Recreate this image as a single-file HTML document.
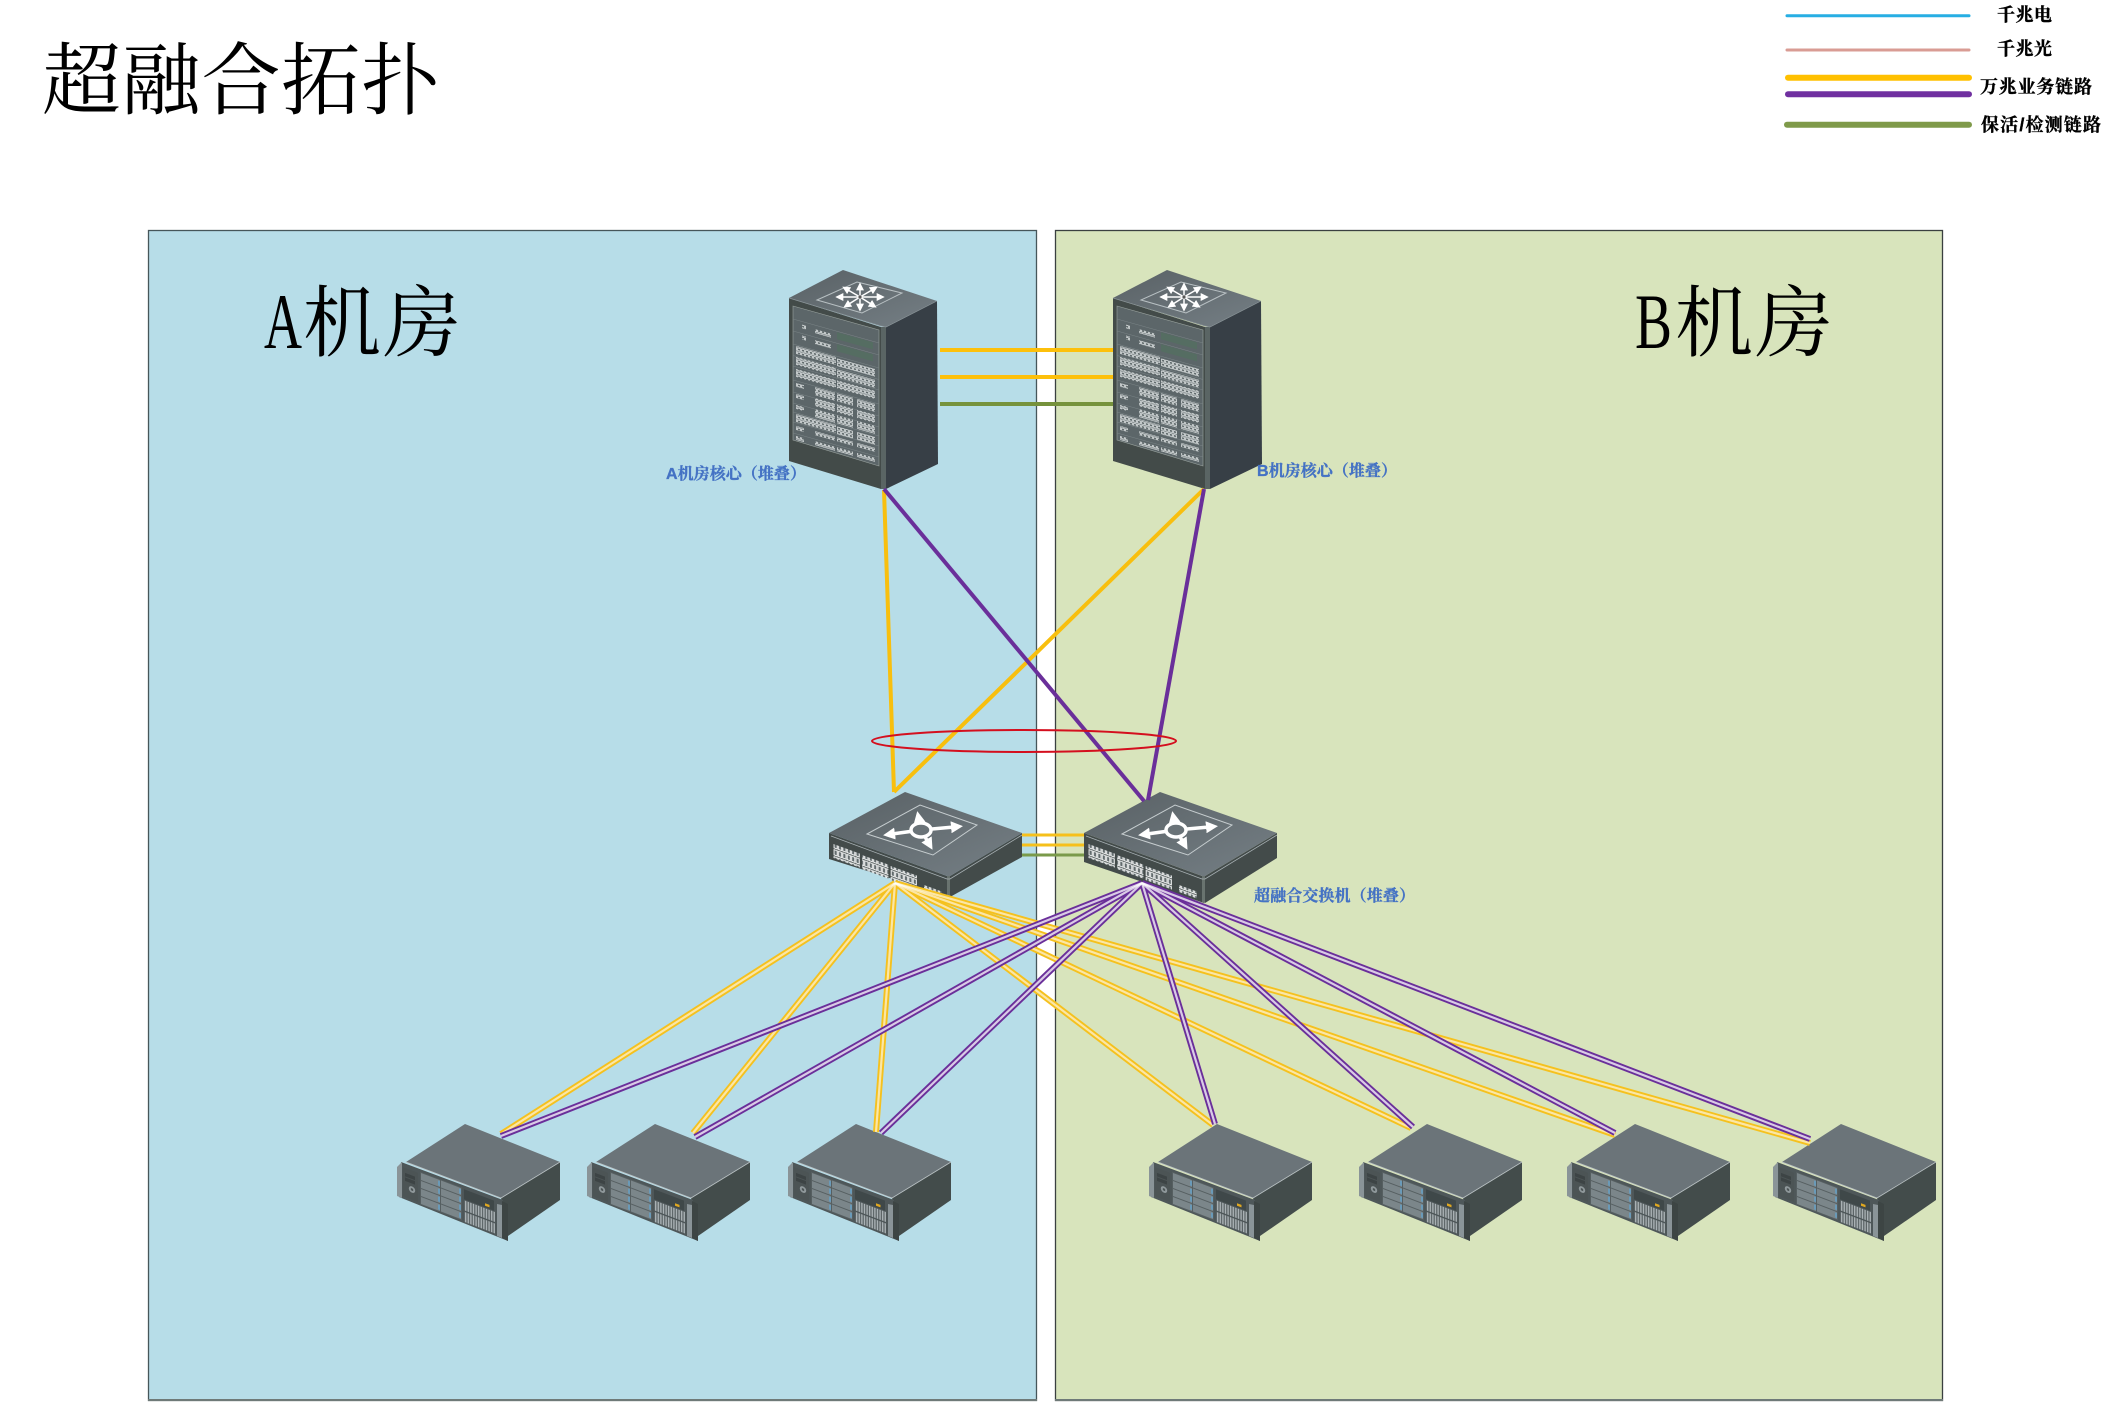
<!DOCTYPE html>
<html lang="zh"><head><meta charset="utf-8"><title>超融合拓扑</title>
<style>html,body{margin:0;padding:0;background:#fff}svg{display:block}</style></head>
<body>
<svg xmlns="http://www.w3.org/2000/svg" width="2111" height="1402" viewBox="0 0 2111 1402">
<defs>
<linearGradient id="gt" x1="0" y1="0" x2="1" y2="1"><stop offset="0" stop-color="#596165"/><stop offset="1" stop-color="#757f85"/></linearGradient>
<pattern id="pp" width="4" height="4" patternUnits="userSpaceOnUse"><rect x=".6" y=".6" width="2.8" height="2.6" fill="#566062" stroke="#e8ecec" stroke-width=".8"/></pattern>
<pattern id="ps" width="4.4" height="7" patternUnits="userSpaceOnUse"><rect x=".6" y=".8" width="3.2" height="5.2" fill="#626b6d" stroke="#f2f4f4" stroke-width="1"/></pattern>
<pattern id="pv" width="2.6" height="10" patternUnits="userSpaceOnUse"><rect width="1.5" height="10" fill="#a9b1b4"/><rect x="1.5" width="1.1" height="10" fill="#5a6365"/></pattern>
<marker id="mw" markerWidth="8" markerHeight="8" refX="1" refY="3" orient="auto" markerUnits="userSpaceOnUse" viewBox="0 0 6 6"><path d="M0 0L6 3L0 6z" fill="#fff"/></marker>
<marker id="mb" markerWidth="12" markerHeight="12" refX="1.5" refY="3" orient="auto" markerUnits="userSpaceOnUse" viewBox="0 0 6 6"><path d="M0 0L6 3L0 6z" fill="#fff"/></marker>

<g id="rack">
  <polygon points="789,298 881,327 881,489 789,461" fill="#434b49"/>
  <polygon points="886,327 937,301 938,464 886,489" fill="#373f46"/>
  <polygon points="881,327 886,327 886,489 881,489" fill="#5a6564"/>
  <polygon points="789,298 843,270 937,301 886,327 881,326" fill="url(#gt)"/>
  <polyline points="789,298 881,326 886,327 937,301" fill="none" stroke="#8a9498" stroke-width=".7"/>
  <polygon points="793,306 879,330 879,466 793,440" fill="#5c6669" stroke="#9aa39f" stroke-width=".6"/>
  <polygon points="817,300 857,282 902,293 862,313" fill="none" stroke="#b8c0c3" stroke-width="1"/>
  <g stroke="#fff" stroke-width="1.500">
    <line x1="860" y1="297" x2="860" y2="289" marker-end="url(#mw)"/>
    <line x1="860" y1="297" x2="860" y2="305" marker-end="url(#mw)"/>
    <line x1="860" y1="297" x2="842" y2="297" marker-end="url(#mw)"/>
    <line x1="860" y1="297" x2="878" y2="297" marker-end="url(#mw)"/>
    <line x1="860" y1="297" x2="848" y2="290" marker-end="url(#mw)"/>
    <line x1="860" y1="297" x2="872" y2="290" marker-end="url(#mw)"/>
    <line x1="860" y1="297" x2="849" y2="304" marker-end="url(#mw)"/>
    <line x1="860" y1="297" x2="871" y2="304" marker-end="url(#mw)"/>
  </g>
  <circle cx="860" cy="297" r="1.600" fill="#555"/>
  <g transform="matrix(1,.279,0,1,793,306)">
    <g stroke="#7b8587" stroke-width=".5">
      <line x1="0" y1="13" x2="86" y2="13"/><line x1="0" y1="25" x2="86" y2="25"/><line x1="0" y1="38" x2="86" y2="38"/><line x1="0" y1="49.500" x2="86" y2="49.500"/><line x1="0" y1="60" x2="86" y2="60"/><line x1="0" y1="74" x2="86" y2="74"/><line x1="0" y1="86" x2="86" y2="86"/><line x1="0" y1="97" x2="86" y2="97"/><line x1="0" y1="106" x2="86" y2="106"/><line x1="0" y1="116" x2="86" y2="116"/><line x1="0" y1="127" x2="86" y2="127"/>
    </g>
    <rect x="9" y="16" width="4" height="4" fill="url(#pp)"/><rect x="22" y="17" width="16" height="4" fill="url(#pp)"/>
    <rect x="9" y="27" width="4" height="4" fill="url(#pp)"/><rect x="22" y="28" width="16" height="4" fill="url(#pp)"/>
    <rect x="44" y="14" width="36" height="7" fill="#52705f" opacity=".7"/><rect x="44" y="26" width="36" height="7" fill="#52705f" opacity=".7"/>
    <rect x="3" y="39" width="40" height="8" fill="url(#pp)"/><rect x="44" y="40" width="38" height="8" fill="url(#pp)"/>
    <rect x="3" y="50" width="40" height="8" fill="url(#pp)"/><rect x="44" y="51" width="38" height="8" fill="url(#pp)"/>
    <rect x="3" y="62" width="40" height="8" fill="url(#pp)"/><rect x="44" y="62" width="38" height="8" fill="url(#pp)"/>
    <rect x="3" y="76" width="8" height="4" fill="url(#pp)"/><rect x="22" y="75" width="20" height="8" fill="url(#pp)"/><rect x="44" y="75" width="16" height="8" fill="url(#pp)"/><rect x="64" y="75" width="18" height="8" fill="url(#pp)"/>
    <rect x="3" y="87" width="8" height="4" fill="url(#pp)"/><rect x="22" y="86" width="20" height="8" fill="url(#pp)"/><rect x="44" y="86" width="16" height="8" fill="url(#pp)"/><rect x="64" y="86" width="18" height="8" fill="url(#pp)"/>
    <rect x="3" y="98" width="8" height="4" fill="url(#pp)"/><rect x="22" y="97" width="20" height="8" fill="url(#pp)"/><rect x="44" y="97" width="16" height="8" fill="url(#pp)"/><rect x="64" y="97" width="18" height="8" fill="url(#pp)"/>
    <rect x="3" y="107" width="40" height="8" fill="url(#pp)"/><rect x="44" y="108" width="16" height="8" fill="url(#pp)"/><rect x="64" y="108" width="18" height="8" fill="url(#pp)"/>
    <rect x="3" y="119" width="8" height="4" fill="url(#pp)"/><rect x="22" y="119" width="20" height="4" fill="url(#pp)"/><rect x="44" y="119" width="16" height="4" fill="url(#pp)"/><rect x="64" y="119" width="18" height="4" fill="url(#pp)"/>
    <rect x="3" y="129" width="8" height="4" fill="url(#pp)"/><rect x="22" y="129" width="20" height="4" fill="url(#pp)"/><rect x="44" y="129" width="16" height="4" fill="url(#pp)"/><rect x="64" y="129" width="18" height="4" fill="url(#pp)"/>
  </g>
</g>

<g id="swtop">
  <polygon points="829,833 905,792 1022,833 950,876 947,876" fill="url(#gt)"/>
  <polyline points="831,836 947,879 950,879 1022,835" fill="none" stroke="#a9b2b5" stroke-width=".8"/>
  <polygon points="867,834 920,805 977,825 933,855" fill="none" stroke="#c6cdcf" stroke-width="1"/>
  <g stroke="#fff" stroke-width="3.500">
    <line x1="921" y1="830" x2="892" y2="834" marker-end="url(#mb)"/>
    <line x1="921" y1="830" x2="954" y2="827" marker-end="url(#mb)"/>
    <line x1="921" y1="830" x2="919" y2="820" marker-end="url(#mb)"/>
    <line x1="921" y1="830" x2="928" y2="842" marker-end="url(#mb)"/>
  </g>
  <ellipse cx="921" cy="830" rx="10" ry="7" fill="#6a7378" stroke="#fff" stroke-width="3.500"/>
  <g transform="matrix(1,.364,0,1,829,833)">
    <rect x="4.500" y="9.400" width="26.400" height="14" fill="url(#ps)"/>
    <rect x="33" y="10" width="26.400" height="14" fill="url(#ps)"/>
    <rect x="61.600" y="10.600" width="26.400" height="14" fill="url(#ps)"/>
    <rect x="95" y="17.400" width="8.800" height="7" fill="url(#ps)"/>
    <rect x="104" y="17.400" width="8.800" height="7" fill="url(#ps)"/>
  </g>
</g>

<g id="srv">
  <polygon points="501,1198 560,1162 560,1200 508,1236" fill="#434c4b"/>
  <polygon points="401,1162 503,1200 508,1241 399,1197" fill="#4e5759"/>
  <polygon points="465,1124 560,1162 501,1198 406,1162" fill="#6b7479"/>
  <polyline points="406,1162 501,1198 560,1162" fill="none" stroke="#b9c1c3" stroke-width=".8"/>
  <polygon points="397,1167 402,1162 402,1198 397,1196" fill="#8a9498"/>
  <polygon points="497,1204 502,1205 502,1238 497,1236" fill="#8a9498"/>
  <polygon points="502,1201 508,1204 508,1241 502,1238" fill="#3d4544"/>
  <g transform="matrix(1,.379,0,1,400,1163)">
    <rect x="3" y="3" width="15" height="29" fill="#4c5455"/>
    <rect x="5" y="8" width="10" height="3.500" fill="#3d4445"/><rect x="5" y="12.500" width="10" height="3.500" fill="#3d4445"/>
    <circle cx="12" cy="22" r="3.200" fill="#8f989b"/><circle cx="12" cy="22" r="1.300" fill="#4c5455"/>
    <rect x="20" y="1" width="42" height="33" fill="#565f61"/>
    <rect x="21" y="2" width="19" height="7" fill="#7b868a"/><rect x="41" y="2" width="20" height="7" fill="#7b868a"/>
    <rect x="21" y="10" width="19" height="7" fill="#7b868a"/><rect x="41" y="10" width="20" height="7" fill="#7b868a"/>
    <rect x="21" y="18" width="19" height="7" fill="#7b868a"/><rect x="41" y="18" width="20" height="7" fill="#7b868a"/>
    <rect x="21" y="26" width="19" height="7" fill="#7b868a"/><rect x="41" y="26" width="20" height="7" fill="#7b868a"/>
    <rect x="38" y="3" width="2" height="5" fill="#6a9ab8"/><rect x="59" y="3" width="2" height="5" fill="#6a9ab8"/><rect x="38" y="11" width="2" height="5" fill="#6a9ab8"/><rect x="59" y="11" width="2" height="5" fill="#6a9ab8"/><rect x="38" y="19" width="2" height="5" fill="#6a9ab8"/><rect x="59" y="19" width="2" height="5" fill="#6a9ab8"/><rect x="38" y="27" width="2" height="5" fill="#6a9ab8"/><rect x="59" y="27" width="2" height="5" fill="#6a9ab8"/>
    <rect x="64" y="2" width="30" height="10" fill="#3f4849"/><rect x="85" y="8" width="4.500" height="2.500" fill="#e0a820"/>
    <rect x="64" y="13" width="31" height="10" fill="url(#pv)"/><rect x="64" y="24.500" width="31" height="10" fill="url(#pv)"/>
  </g>
</g>
</defs>

<rect x="148.500" y="230.500" width="888" height="1170" fill="#b7dde8" stroke="#46565a" stroke-width="1.300"/>
<rect x="1055.500" y="230.500" width="887" height="1170" fill="#d8e4bc" stroke="#3a4040" stroke-width="1.300"/>
<line x1="148" y1="1400" x2="1037" y2="1400" stroke="#6f7a78" stroke-width="2"/>
<line x1="1055" y1="1400" x2="1943" y2="1400" stroke="#6f7a78" stroke-width="2"/>

<text x="42" y="108" font-family="'Liberation Serif','Noto Serif CJK SC',serif" font-size="79" textLength="398" fill="#000">超融合拓扑</text>
<text x="264" y="348" font-family="'Liberation Serif',serif" font-size="78" textLength="38" lengthAdjust="spacingAndGlyphs" fill="#000">A</text>
<text x="303" y="350" font-family="'Liberation Serif','Noto Serif CJK SC',serif" font-size="78" textLength="158" fill="#000">机房</text>
<text x="1635" y="348" font-family="'Liberation Serif',serif" font-size="78" textLength="37" lengthAdjust="spacingAndGlyphs" fill="#000">B</text>
<text x="1675" y="350" font-family="'Liberation Serif','Noto Serif CJK SC',serif" font-size="78" textLength="158" fill="#000">机房</text>

<g stroke-linecap="round" fill="none">
  <line x1="1787" y1="15.700" x2="1969" y2="15.700" stroke="#27aee3" stroke-width="3"/>
  <line x1="1787" y1="50" x2="1969" y2="50" stroke="#d99c94" stroke-width="3"/>
  <line x1="1788" y1="77.700" x2="1969" y2="77.700" stroke="#ffc000" stroke-width="6"/>
  <line x1="1788" y1="94.300" x2="1969" y2="94.300" stroke="#7030a0" stroke-width="6"/>
  <line x1="1787" y1="124.700" x2="1969" y2="124.700" stroke="#7f9a4a" stroke-width="6"/>
</g>
<g font-family="'Liberation Sans','Noto Serif CJK SC',serif" font-weight="700" font-size="18" fill="#000" stroke="#000" stroke-width=".35">
  <text x="1997" y="21" textLength="55">千兆电</text>
  <text x="1997" y="55" textLength="55">千兆光</text>
  <text x="1980" y="93" textLength="112">万兆业务链路</text>
  <text x="1981" y="131" textLength="120">保活/检测链路</text>
</g>

<use href="#rack"/>
<use href="#rack" transform="translate(324,0)"/>

<g stroke-width="4" fill="none">
  <line x1="940" y1="350" x2="1113" y2="350" stroke="#fdc00b"/>
  <line x1="940" y1="377" x2="1113" y2="377" stroke="#fdc00b"/>
  <line x1="940" y1="404" x2="1113" y2="404" stroke="#76923c"/>
</g>

<!-- switches -->
<polygon points="829,833 947,876 950,897 829,859" fill="#434b4a"/>
<polygon points="950,876 1022,833 1022,857 950,897" fill="#434b4a"/>
<polygon points="947,876 950,876 950,897 947,896" fill="#69736f"/>
<use href="#swtop"/>
<polygon points="1084,833 1202,876 1204,903 1084,862" fill="#434b4a"/>
<polygon points="1205,876 1277,833 1277,858 1205,903" fill="#434b4a"/>
<polygon points="1202,876 1205,876 1205,903 1202,902" fill="#69736f"/>
<use href="#swtop" transform="translate(255,0)"/>

<g stroke-width="3" fill="none">
  <line x1="1022" y1="835" x2="1084" y2="835" stroke="#f6c01b"/>
  <line x1="1022" y1="845" x2="1084" y2="845" stroke="#f6c01b"/>
  <line x1="1022" y1="855" x2="1084" y2="855" stroke="#7a9a4a"/>
</g>

<!-- servers -->
<use href="#srv"/>
<use href="#srv" transform="translate(190,0)"/>
<use href="#srv" transform="translate(391,0)"/>
<use href="#srv" transform="translate(752,0)"/>
<use href="#srv" transform="translate(962,0)"/>
<use href="#srv" transform="translate(1170,0)"/>
<use href="#srv" transform="translate(1376,0)"/>

<!-- core uplinks -->
<g stroke-width="4" fill="none">
  <line x1="884" y1="490" x2="894" y2="792" stroke="#f8bf0e"/>
  <line x1="1204" y1="489" x2="894" y2="792" stroke="#f8bf0e"/>
  <line x1="884" y1="489" x2="1144" y2="801" stroke="#6a2f9a"/>
  <line x1="1204" y1="489" x2="1148" y2="800" stroke="#6a2f9a"/>
</g>
<ellipse cx="1024" cy="741" rx="152" ry="11" fill="none" stroke="#d40f1e" stroke-width="2"/>

<!-- yellow fan -->
<g fill="none" stroke="#f5c11e" stroke-width="6">
  <line x1="895" y1="883" x2="501" y2="1134"/><line x1="895" y1="883" x2="693" y2="1133"/><line x1="895" y1="883" x2="876" y2="1132"/><line x1="895" y1="883" x2="1213" y2="1125"/><line x1="895" y1="883" x2="1411" y2="1128"/><line x1="895" y1="883" x2="1615" y2="1135"/><line x1="895" y1="883" x2="1810" y2="1143"/>
</g>
<g fill="none" stroke="#fff" stroke-opacity=".6" stroke-width="2.200">
  <line x1="895" y1="883" x2="501" y2="1134"/><line x1="895" y1="883" x2="693" y2="1133"/><line x1="895" y1="883" x2="876" y2="1132"/><line x1="895" y1="883" x2="1213" y2="1125"/><line x1="895" y1="883" x2="1411" y2="1128"/><line x1="895" y1="883" x2="1615" y2="1135"/><line x1="895" y1="883" x2="1810" y2="1143"/>
</g>
<!-- purple fan -->
<g fill="none" stroke="#6a2f9a" stroke-width="6">
  <line x1="1142" y1="883" x2="501" y2="1136"/><line x1="1142" y1="883" x2="695" y2="1137"/><line x1="1142" y1="883" x2="881" y2="1133"/><line x1="1142" y1="883" x2="1215" y2="1124"/><line x1="1142" y1="883" x2="1413" y2="1127"/><line x1="1142" y1="883" x2="1615" y2="1133"/><line x1="1142" y1="883" x2="1810" y2="1139"/>
</g>
<g fill="none" stroke="#fff" stroke-opacity=".75" stroke-width="2.200">
  <line x1="1142" y1="883" x2="501" y2="1136"/><line x1="1142" y1="883" x2="695" y2="1137"/><line x1="1142" y1="883" x2="881" y2="1133"/><line x1="1142" y1="883" x2="1215" y2="1124"/><line x1="1142" y1="883" x2="1413" y2="1127"/><line x1="1142" y1="883" x2="1615" y2="1133"/><line x1="1142" y1="883" x2="1810" y2="1139"/>
</g>

<g font-family="'Liberation Sans','Noto Serif CJK SC',serif" font-weight="700" font-size="16" fill="#4472c4" stroke="#4472c4" stroke-width=".35">
  <text x="666" y="479" textLength="140">A机房核心（堆叠）</text>
  <text x="1257" y="476" textLength="140">B机房核心（堆叠）</text>
  <text x="1254" y="901" textLength="161">超融合交换机（堆叠）</text>
</g>
</svg>
</body></html>
